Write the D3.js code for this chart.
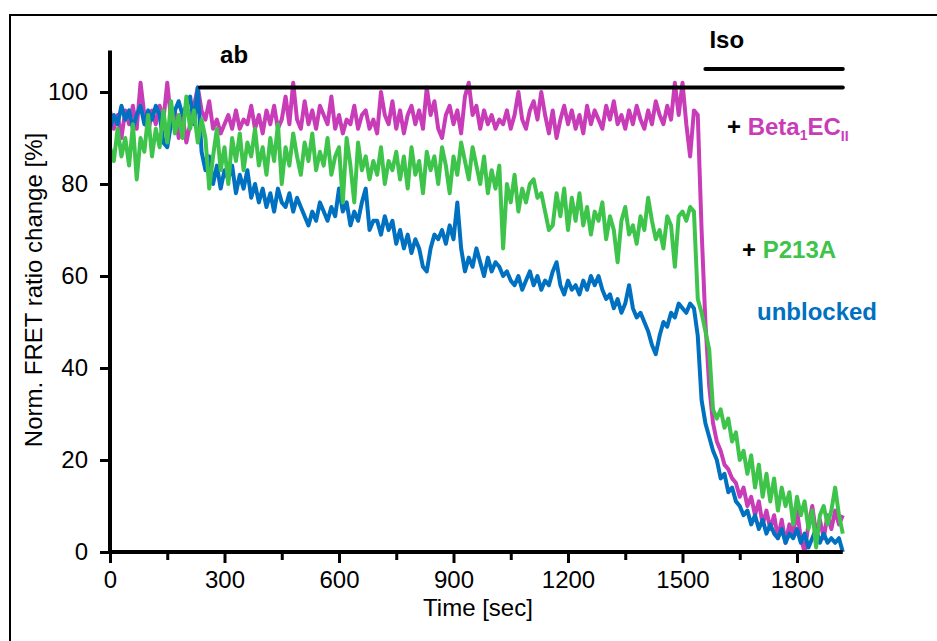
<!DOCTYPE html>
<html>
<head>
<meta charset="utf-8">
<script src="https://cdn.jsdelivr.net/npm/d3@7"></script>
<style>
  body { margin: 0; background: #fff; }
  svg { display: block; font-family: Arial, "Liberation Sans", sans-serif; }
</style>
</head>
<body>
<svg></svg>
<script>
// samples every 10 sec, from 0 to 1920 sec
let step = 10

let beta = [
  96, 92, 95, 90, 96, 93, 97, 92, 102, 95,
  91, 96, 93, 97, 94, 102, 94, 96, 90, 95,
  89, 93, 97, 101, 96, 94, 98, 92, 94, 91,
  93, 95, 92, 96, 92, 94, 93, 97, 92, 95,
  91, 96, 93, 97, 92, 94, 99, 93, 102, 94,
  92, 98, 93, 96, 92, 97, 95, 93, 99, 92,
  95, 91, 94, 93, 97, 92, 95, 96, 92, 94,
  91, 100, 95, 93, 98, 92, 96, 91, 95, 97,
  93, 96, 92, 101, 95, 98, 92, 90, 95, 97,
  93, 96, 91, 99, 102, 95, 97, 92, 96, 93,
  95, 92, 94, 93, 96, 92, 95, 100, 94, 92,
  96, 98, 94, 100, 95, 91, 96, 90, 94, 97,
  93, 96, 92, 95, 91, 97, 93, 96, 94, 92,
  97, 94, 98, 93, 95, 92, 96, 93, 97, 94,
  92, 96, 93, 98, 95, 93, 97, 94, 102, 95,
  102, 93, 86, 96, 95, 70, 50, 36, 28, 24,
  22, 19, 18, 16, 15, 12, 14, 10, 12, 8,
  11, 6, 9, 5, 8, 3, 7, 2, 6, 4,
  9, 3, 0, 6, 10, 4, 7, 3, 8, 5,
  9, 6, 8
]

let p213a = [
  88, 85, 92, 86, 90, 84, 93, 81, 90, 87,
  95, 86, 92, 88, 96, 89, 98, 91, 95, 90,
  99, 92, 96, 89, 94, 90, 79, 86, 92, 83,
  88, 80, 90, 85, 91, 83, 89, 86, 92, 84,
  88, 82, 90, 85, 93, 80, 88, 84, 91, 86,
  82, 89, 85, 91, 83, 87, 84, 90, 82, 86,
  88, 76, 90, 84, 76, 89, 83, 86, 81, 85,
  82, 88, 80, 85, 83, 87, 81, 86, 79, 88,
  82, 85, 78, 87, 83, 86, 80, 88, 84, 78,
  86, 82, 89, 85, 81, 88, 84, 80, 86, 78,
  83, 79, 84, 66, 80, 76, 82, 74, 79, 76,
  80, 81, 77, 78, 74, 70, 71, 78, 73, 79,
  70, 77, 72, 78, 71, 75, 69, 74, 72, 76,
  68, 73, 70, 63, 72, 75, 69, 71, 67, 73,
  70, 77, 72, 68, 70, 66, 73, 71, 62, 73,
  74, 72, 75, 74, 55, 52, 48, 44, 31, 29,
  31, 27, 29, 24, 26, 20, 22, 17, 21, 14,
  19, 12, 17, 11, 16, 9, 14, 10, 13, 6,
  12, 8, 11, 5, 9, 1, 8, 10, 6, 9,
  14, 8, 4
]

let unblocked = [
  92, 95, 93, 97, 94, 96, 92, 95, 97, 93,
  96, 94, 97, 95, 89, 88, 93, 96, 98, 95,
  97, 99, 93, 101, 87, 83, 86, 80, 84, 79,
  83, 81, 84, 78, 82, 79, 83, 77, 80, 76,
  79, 75, 78, 74, 79, 76, 75, 78, 74, 77,
  75, 73, 71, 74, 72, 76, 74, 72, 75, 73,
  79, 74, 76, 71, 74, 72, 76, 79, 70, 72,
  72, 69, 73, 70, 72, 67, 70, 66, 69, 65,
  68, 66, 62, 61, 66, 69, 68, 70, 67, 71,
  68, 76, 66, 61, 64, 62, 66, 63, 60, 64,
  61, 63, 62, 60, 61, 59, 58, 60, 57, 59,
  61, 58, 60, 57, 59, 58, 61, 63, 58, 56,
  59, 57, 58, 56, 59, 57, 60, 58, 60, 57,
  55, 56, 53, 55, 52, 54, 58, 53, 51, 52,
  50, 48, 45, 43, 47, 50, 49, 52, 51, 54,
  53, 52, 54, 53, 47, 33, 28, 25, 22, 20,
  16, 17, 13, 14, 11, 10, 8, 9, 6, 8,
  5, 7, 4, 6, 4, 3, 5, 2, 4, 3,
  5, 2, 4, 1, 3, 5, 2, 4, 2, 3,
  2, 3, 0
]

let xMajor = [0, 300, 600, 900, 1200, 1500, 1800]
let xMinor = [150, 450, 750, 1050, 1350, 1650]
let yTicks = [0, 20, 40, 60, 80, 100]

let series = [
  { name: 'beta', values: beta, color: '#c93cb8' },
  { name: 'unblocked', values: unblocked, color: '#0070c0' },
  { name: 'p213a', values: p213a, color: '#3ec44a' }
]

function drawChart () {
  let svgWidth = 937
  let svgHeight = 641

  let svg = d3.select('svg')
    .attr('width', svgWidth)
    .attr('height', svgHeight)

  // frame around the figure
  svg.append('path')
    .attr('d', `M10,${svgHeight} V15 H${svgWidth}`)
    .attr('fill', 'none')
    .attr('stroke', '#000')
    .attr('stroke-width', 2)

  let x = d3.scaleLinear()
    .domain([0, 1800])
    .range([110, 797])

  let y = d3.scaleLinear()
    .domain([0, 100])
    .range([552, 92])

  let line = d3.line()
    .x((d, i) => x(i * step))
    .y((d) => y(d))

  series.forEach((s) => {
    svg.append('path')
      .datum(s.values)
      .attr('fill', 'none')
      .attr('stroke', s.color)
      .attr('stroke-width', 4)
      .attr('stroke-linejoin', 'round')
      .attr('d', line)
  })

  // axes
  let xAxis = svg.append('g')
    .attr('transform', `translate(0, ${y(0)})`)
    .call(d3.axisBottom(x).tickValues(xMajor).tickSize(11).tickPadding(8).tickFormat(d3.format('d')))
  let xMinorAxis = svg.append('g')
    .attr('transform', `translate(0, ${y(0)})`)
    .call(d3.axisBottom(x).tickValues(xMinor).tickSize(8).tickFormat(''))
  let yAxis = svg.append('g')
    .attr('transform', `translate(${x(0)}, 0)`)
    .call(d3.axisLeft(y).tickValues(yTicks).tickSize(10).tickPadding(12))

  ;[xAxis, xMinorAxis, yAxis].forEach((g) => {
    g.select('.domain').remove()
    g.selectAll('line').attr('stroke', '#000').attr('stroke-width', 3)
    g.selectAll('text')
      .attr('fill', '#000')
      .style('font-size', '24px')
      .style('font-family', 'Arial, "Liberation Sans", sans-serif')
  })

  svg.append('line')
    .attr('x1', x(0)).attr('x2', x(1920))
    .attr('y1', y(0)).attr('y2', y(0))
    .attr('stroke', '#000').attr('stroke-width', 4)
  svg.append('line')
    .attr('x1', x(0)).attr('x2', x(0))
    .attr('y1', y(0) + 1.5).attr('y2', y(109))
    .attr('stroke', '#000').attr('stroke-width', 4)

  // axis titles
  svg.append('text')
    .attr('x', 478)
    .attr('y', 616)
    .attr('text-anchor', 'middle')
    .style('font-size', '24px')
    .text('Time [sec]')

  svg.append('text')
    .attr('transform', 'translate(42, 290) rotate(-90)')
    .attr('text-anchor', 'middle')
    .style('font-size', '24px')
    .text('Norm. FRET ratio change [%]')

  // treatment bars
  svg.append('line')
    .attr('x1', x(236)).attr('x2', x(1920))
    .attr('y1', y(101)).attr('y2', y(101))
    .attr('stroke', '#000').attr('stroke-width', 4).attr('stroke-linecap', 'round')
  svg.append('line')
    .attr('x1', x(1560)).attr('x2', x(1920))
    .attr('y1', y(105)).attr('y2', y(105))
    .attr('stroke', '#000').attr('stroke-width', 4).attr('stroke-linecap', 'round')

  svg.append('text')
    .attr('x', x(325)).attr('y', 63)
    .attr('text-anchor', 'middle')
    .style('font-size', '24px').style('font-weight', 'bold')
    .text('ab')
  svg.append('text')
    .attr('x', x(1616)).attr('y', 48)
    .attr('text-anchor', 'middle')
    .style('font-size', '24px').style('font-weight', 'bold')
    .text('Iso')

  // series labels
  let t1 = svg.append('text')
    .attr('x', 727).attr('y', 135)
    .style('font-size', '24px').style('font-weight', 'bold')
  t1.append('tspan').attr('fill', '#000').text('+ ')
  t1.append('tspan').attr('fill', series[0].color).text('Beta')
  t1.append('tspan').attr('fill', series[0].color).attr('dy', 5).style('font-size', '14px').text('1')
  t1.append('tspan').attr('fill', series[0].color).attr('dy', -5).text('EC')
  t1.append('tspan').attr('fill', series[0].color).attr('dy', 6).style('font-size', '14px').text('II')

  let t2 = svg.append('text')
    .attr('x', 742).attr('y', 258)
    .style('font-size', '24px').style('font-weight', 'bold')
  t2.append('tspan').attr('fill', '#000').text('+ ')
  t2.append('tspan').attr('fill', series[2].color).text('P213A')

  svg.append('text')
    .attr('x', 757).attr('y', 320)
    .attr('fill', series[1].color)
    .style('font-size', '24px').style('font-weight', 'bold')
    .text('unblocked')
}

drawChart()
</script>
</body>
</html>
